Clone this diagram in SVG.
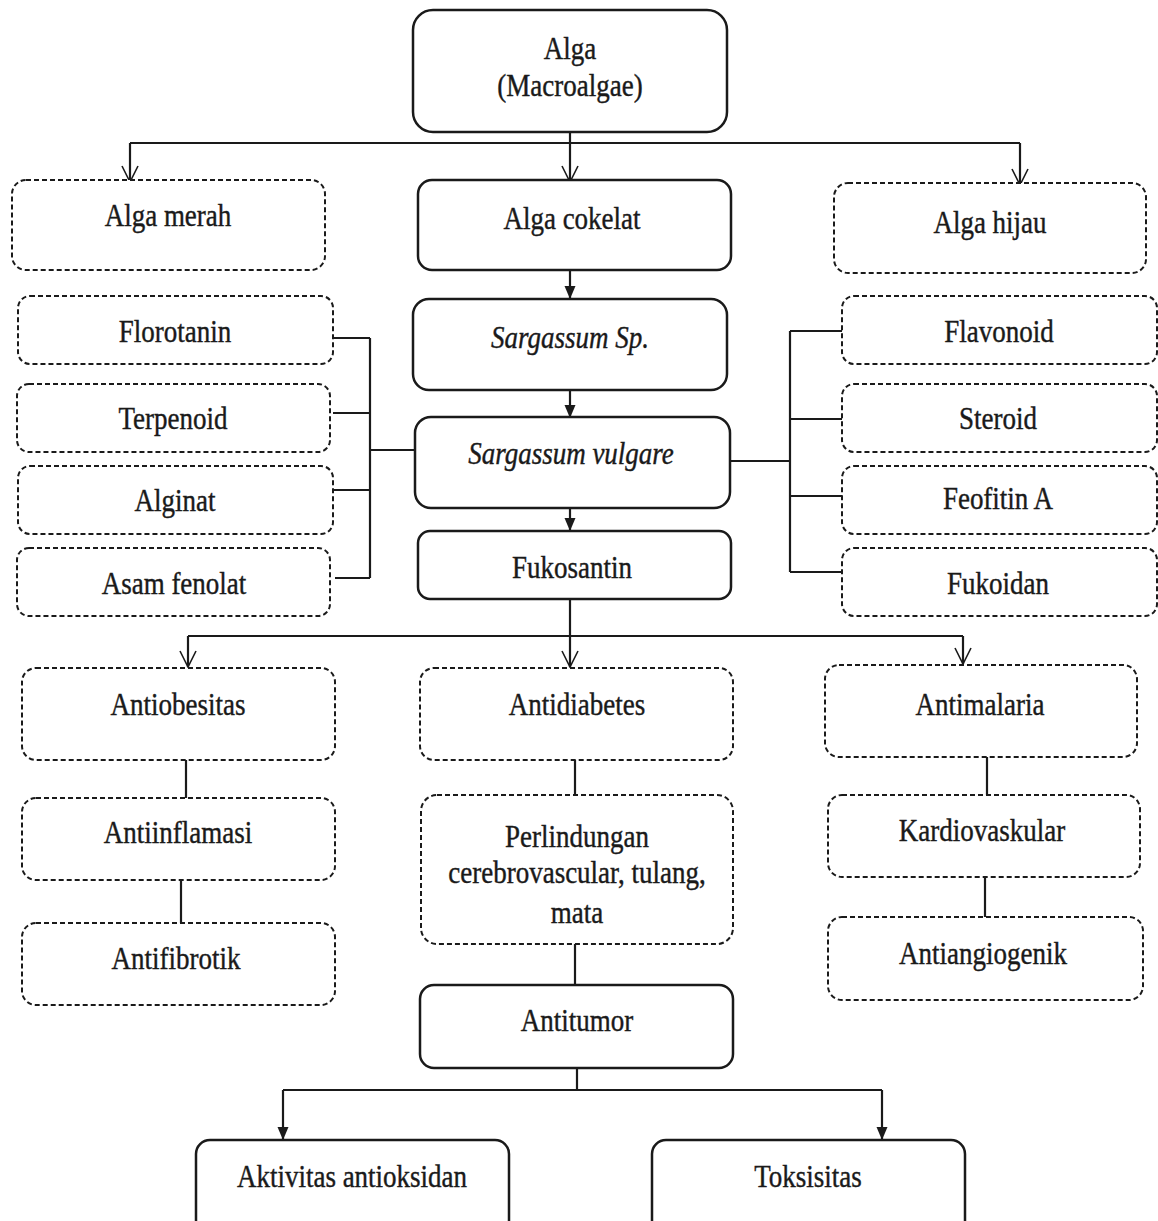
<svg xmlns="http://www.w3.org/2000/svg" width="1158" height="1221" viewBox="0 0 1158 1221">
<style>
.solid{fill:#fff;stroke:#1a1a1a;stroke-width:2.5}
.dash{fill:#fff;stroke:#1a1a1a;stroke-width:2;stroke-dasharray:5 3}
.c{fill:none;stroke:#1a1a1a;stroke-width:2.2}
.t{font-family:"Liberation Serif","Times New Roman",serif;font-size:27px;fill:#1a1a1a;stroke:#1a1a1a;stroke-width:0.35;text-anchor:middle;transform-box:fill-box;transform-origin:center;transform:scaleY(1.18)}
.i{font-style:italic}
</style>
<defs>
<marker id="open" markerUnits="userSpaceOnUse" viewBox="-17 -9 18 18" markerWidth="18" markerHeight="18" refX="0" refY="0" orient="auto">
<path d="M-16,-8 L0,0 L-16,8" fill="none" stroke="#1a1a1a" stroke-width="1.6"/>
</marker>
<marker id="fill" markerUnits="userSpaceOnUse" viewBox="-13 -6 14 12" markerWidth="14" markerHeight="12" refX="0" refY="0" orient="auto">
<path d="M0,0 L-13,-5.5 L-13,5.5 Z" fill="#1a1a1a"/>
</marker>
</defs>
<rect width="1158" height="1221" fill="#fff"/>
<g id="connectors">
<path class="c" d="M570,132 V182" marker-end="url(#open)"/>
<path class="c" d="M130,143 H1020"/>
<path class="c" d="M130,143 V182" marker-end="url(#open)"/>
<path class="c" d="M1020,143 V185" marker-end="url(#open)"/>
<path class="c" d="M570,270 V299" marker-end="url(#fill)"/>
<path class="c" d="M570,390 V418" marker-end="url(#fill)"/>
<path class="c" d="M570,508 V531" marker-end="url(#fill)"/>
<path class="c" d="M333,338 H370 M333,413 H370 M333,490 H370 M335,578 H370 M370,338 V578 M370,450 H415"/>
<path class="c" d="M842,331 H790 M842,419 H790 M842,496 H790 M842,572 H790 M790,331 V572 M730,461 H790"/>
<path class="c" d="M570,599 V667" marker-end="url(#open)"/>
<path class="c" d="M188,636 H963"/>
<path class="c" d="M188,636 V667" marker-end="url(#open)"/>
<path class="c" d="M963,636 V664" marker-end="url(#open)"/>
<path class="c" stroke-width="1.6" d="M186,760 V798 M181,880 V923 M575,760 V795 M575,944 V985 M987,757 V795 M985,877 V917"/>
<path class="c" d="M577,1068 V1090 M283,1090 H882"/>
<path class="c" d="M283,1090 V1140" marker-end="url(#fill)"/>
<path class="c" d="M882,1090 V1140" marker-end="url(#fill)"/>
</g>
<g id="n-alga"><rect class="solid" x="413" y="10" width="314" height="122" rx="20"/><text class="t" x="570" y="57">Alga</text><text class="t" x="570" y="94">(Macroalgae)</text></g>
<g id="n-merah"><rect class="dash" x="12" y="180" width="313" height="90" rx="14"/><text class="t" x="168" y="224">Alga merah</text></g>
<g id="n-cokelat"><rect class="solid" x="418" y="180" width="313" height="90" rx="14"/><text class="t" x="572" y="227">Alga cokelat</text></g>
<g id="n-hijau"><rect class="dash" x="834" y="183" width="312" height="90" rx="14"/><text class="t" x="990" y="231">Alga hijau</text></g>
<g id="n-florotanin"><rect class="dash" x="18" y="296" width="315" height="68" rx="12"/><text class="t" x="175" y="340">Florotanin</text></g>
<g id="n-terpenoid"><rect class="dash" x="17" y="384" width="313" height="68" rx="12"/><text class="t" x="173" y="427">Terpenoid</text></g>
<g id="n-alginat"><rect class="dash" x="18" y="466" width="315" height="68" rx="12"/><text class="t" x="175" y="509">Alginat</text></g>
<g id="n-asam"><rect class="dash" x="17" y="548" width="313" height="68" rx="12"/><text class="t" x="174" y="592">Asam fenolat</text></g>
<g id="n-sp"><rect class="solid" x="413" y="299" width="314" height="91" rx="16"/><text class="t i" x="570" y="346">Sargassum Sp.</text></g>
<g id="n-vulgare"><rect class="solid" x="415" y="417" width="315" height="91" rx="16"/><text class="t i" x="571" y="462">Sargassum vulgare</text></g>
<g id="n-fukosantin"><rect class="solid" x="418" y="531" width="313" height="68" rx="12"/><text class="t" x="572" y="576">Fukosantin</text></g>
<g id="n-flavonoid"><rect class="dash" x="842" y="296" width="315" height="68" rx="12"/><text class="t" x="999" y="340">Flavonoid</text></g>
<g id="n-steroid"><rect class="dash" x="842" y="384" width="315" height="68" rx="12"/><text class="t" x="998" y="427">Steroid</text></g>
<g id="n-feofitin"><rect class="dash" x="842" y="466" width="315" height="68" rx="12"/><text class="t" x="998" y="507">Feofitin A</text></g>
<g id="n-fukoidan"><rect class="dash" x="842" y="548" width="315" height="68" rx="12"/><text class="t" x="998" y="592">Fukoidan</text></g>
<g id="n-antiobesitas"><rect class="dash" x="22" y="668" width="313" height="92" rx="14"/><text class="t" x="178" y="713">Antiobesitas</text></g>
<g id="n-antidiabetes"><rect class="dash" x="420" y="668" width="313" height="92" rx="14"/><text class="t" x="577" y="713">Antidiabetes</text></g>
<g id="n-antimalaria"><rect class="dash" x="825" y="665" width="312" height="92" rx="14"/><text class="t" x="980" y="713">Antimalaria</text></g>
<g id="n-antiinflamasi"><rect class="dash" x="22" y="798" width="313" height="82" rx="14"/><text class="t" x="178" y="841">Antiinflamasi</text></g>
<g id="n-perlindungan"><rect class="dash" x="421" y="795" width="312" height="149" rx="16"/><text class="t" x="577" y="845">Perlindungan</text><text class="t" x="577" y="881">cerebrovascular, tulang,</text><text class="t" x="577" y="921">mata</text></g>
<g id="n-kardiovaskular"><rect class="dash" x="828" y="795" width="312" height="82" rx="14"/><text class="t" x="982" y="839">Kardiovaskular</text></g>
<g id="n-antifibrotik"><rect class="dash" x="22" y="923" width="313" height="82" rx="14"/><text class="t" x="176" y="967">Antifibrotik</text></g>
<g id="n-antiangiogenik"><rect class="dash" x="828" y="917" width="315" height="83" rx="14"/><text class="t" x="983" y="962">Antiangiogenik</text></g>
<g id="n-antitumor"><rect class="solid" x="420" y="985" width="313" height="83" rx="14"/><text class="t" x="577" y="1029">Antitumor</text></g>
<g id="n-aktivitas"><rect class="solid" x="196" y="1140" width="313" height="95" rx="14"/><text class="t" x="352" y="1185">Aktivitas antioksidan</text></g>
<g id="n-toksisitas"><rect class="solid" x="652" y="1140" width="313" height="95" rx="14"/><text class="t" x="808" y="1185">Toksisitas</text></g>
</svg>
